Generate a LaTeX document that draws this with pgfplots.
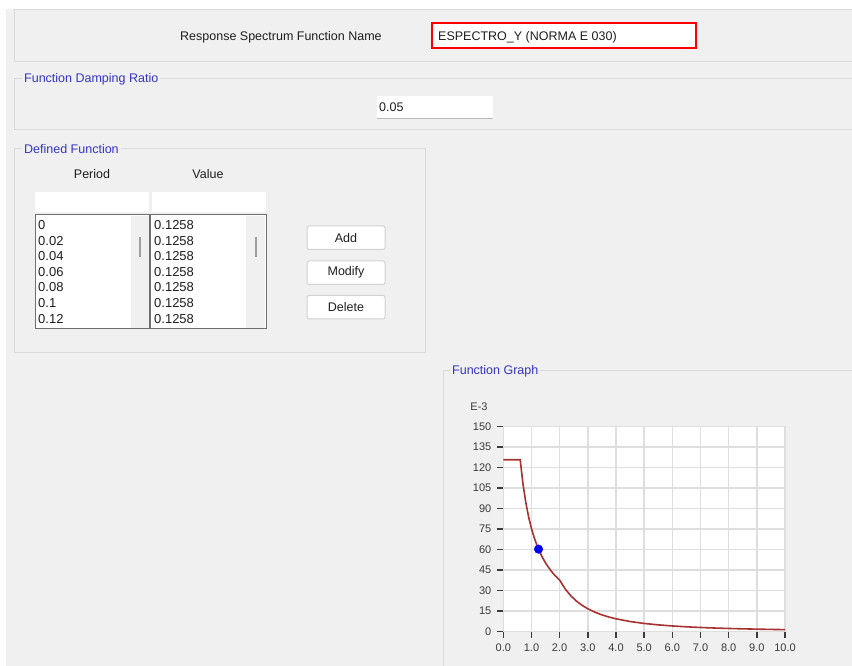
\documentclass[border=0pt]{standalone}
\usepackage{fontspec}
\setmainfont{Liberation Sans}
\usepackage{pgfplots}
\pgfplotsset{compat=1.18}
\definecolor{bg}{HTML}{F0F0F0}
\definecolor{grp}{HTML}{DADADA}
\definecolor{grptext}{HTML}{3434C4}
\definecolor{curve}{HTML}{A83232}
\definecolor{tickc}{HTML}{3A3A3A}
\definecolor{gridc}{HTML}{DEDEDE}
\definecolor{txt}{HTML}{1E1E1E}
\definecolor{listborder}{HTML}{6E6E6E}
\newcommand\ui{\fontsize{12.5}{15}\selectfont}
\newcommand\li{\fontsize{13}{15}\selectfont}
\begin{document}
\begin{tikzpicture}
\useasboundingbox (0,0) rectangle (852pt,666pt);
\begin{scope}[x=1pt,y=-1pt,yshift=666pt]
  \fill[white] (0,0) rectangle (852,666);
  \fill[bg] (6,9) rectangle (852,666);
  % top panel
  \draw[grp, line width=1pt] (14,10) rectangle (853,62);
  \node[anchor=west, inner sep=0, text=txt, font=\ui] at (180,37.5) {Response Spectrum Function Name};
  \draw[red, line width=2.8pt, fill=white] (432,23) rectangle (696,48);
  \node[anchor=west, inner sep=0, text=txt, font=\ui] at (438,37.5) {ESPECTRO\_Y (NORMA E 030)};
  % damping group
  \draw[grp, line width=1pt] (14,79) rectangle (853,130);
  \node[anchor=west, fill=bg, inner xsep=2pt, inner ysep=1pt, text=grptext, font=\ui] at (22,79) {Function Damping Ratio};
  \fill[white] (377,96) rectangle (493,118);
  \draw[gray!55, line width=1pt] (377,118.5) -- (493,118.5);
  \node[anchor=west, inner sep=0, text=txt, font=\ui] at (379,107) {0.05};
  % defined function group
  \draw[grp, line width=1pt] (14,149) rectangle (425,353);
  \node[anchor=west, fill=bg, inner xsep=2pt, inner ysep=1pt, text=grptext, font=\ui] at (22,149) {Defined Function};
  \node[inner sep=0, text=txt, font=\ui] at (92,174) {Period};
  \node[inner sep=0, text=txt, font=\ui] at (208,174) {Value};
  \fill[white] (35,192) rectangle (149,212);
  \fill[white] (152,192) rectangle (266,212);
  \fill[white] (35,215) rectangle (149,329);
  \fill[white] (151,215) rectangle (266,329);
  \fill[bg] (131,216) rectangle (149,328);
  \fill[bg] (246,216) rectangle (265,328);
  \draw[listborder, line width=1pt] (35,215) rectangle (149.5,329);
  \draw[listborder, line width=1pt] (150.5,215) rectangle (266,329);
  \draw[gray!75, line width=2pt] (139.5,237) -- (139.5,257);
  \draw[gray!75, line width=2pt] (256,237) -- (256,257);
  \foreach \p [count=\i from 0] in {0,0.02,0.04,0.06,0.08,0.1,0.12} {
    \node[anchor=west, inner sep=0, text=txt, font=\li] at (38,{225+15.6*\i}) {\p};
    \node[anchor=west, inner sep=0, text=txt, font=\li] at (154,{225+15.6*\i}) {0.1258};
  }
  % buttons
  \foreach \yy/\lab in {226/Add,261/Modify,295.5/Delete} {
    \draw[fill=white, draw=gray!35, line width=1pt, rounded corners=2pt] (307,\yy) rectangle (385,\yy+23.5);
    \node[inner sep=0, text=txt, font=\ui] at (346,\yy+11.75) {\lab};
  }
  % function graph group
  \draw[grp, line width=1pt] (443,371) rectangle (853,670);
  \node[anchor=west, fill=bg, inner xsep=2pt, inner ysep=1pt, text=grptext, font=\ui] at (450,371) {Function Graph};
  \node[inner sep=0, text=tickc, font=\fontsize{11}{12}\selectfont] at (479,406.5) {E-3};
\end{scope}
\begin{axis}[
  at={(503.3pt,34.3pt)}, anchor=south west,
  scale only axis, width=281.7pt, height=205pt,
  xmin=0, xmax=10, ymin=0, ymax=150,
  xtick={0,1,...,10}, ytick={0,15,...,150},
  grid=major, major grid style={draw=gridc, line width=1.6pt},
  axis line style={draw=gridc, line width=1.6pt},
  axis background/.style={fill=white},
  tick align=outside, tick pos=left, major tick length=6pt,
  major tick style={draw=tickc, line width=1.5pt},
  /pgf/number format/assume math mode=true,
  xticklabel style={yshift=-3pt, /pgf/number format/.cd, fixed, fixed zerofill, precision=1},
  yticklabel style={xshift=-2.5pt, /pgf/number format/fixed},
  ticklabel style={font=\fontsize{11}{12}\selectfont, text=tickc},
  clip=false,
]
\addplot[curve, line width=1.6pt] coordinates {
 (0,125.8) (0.6,125.8) (0.7,107.83) (0.8,94.35) (0.9,83.87) (1.0,75.48)
 (1.1,68.62) (1.2,62.9) (1.3,58.06) (1.4,53.91) (1.5,50.32) (1.6,47.18)
 (1.7,44.40) (1.8,41.93) (1.9,39.73) (2.0,37.74) (2.2,31.19) (2.4,26.21)
 (2.6,22.33) (2.8,19.26) (3.0,16.77) (3.25,14.29) (3.5,12.32) (3.75,10.73)
 (4.0,9.435) (4.5,7.455) (5.0,6.038) (5.5,4.990) (6.0,4.193) (6.5,3.573)
 (7.0,3.081) (7.5,2.684) (8.0,2.359) (8.5,2.089) (9.0,1.864) (9.5,1.673)
 (10.0,1.510)
};
\addplot[only marks, mark=*, mark size=4.3pt, color=blue] coordinates {(1.25,60.4)};
\end{axis}
\end{tikzpicture}
\end{document}
